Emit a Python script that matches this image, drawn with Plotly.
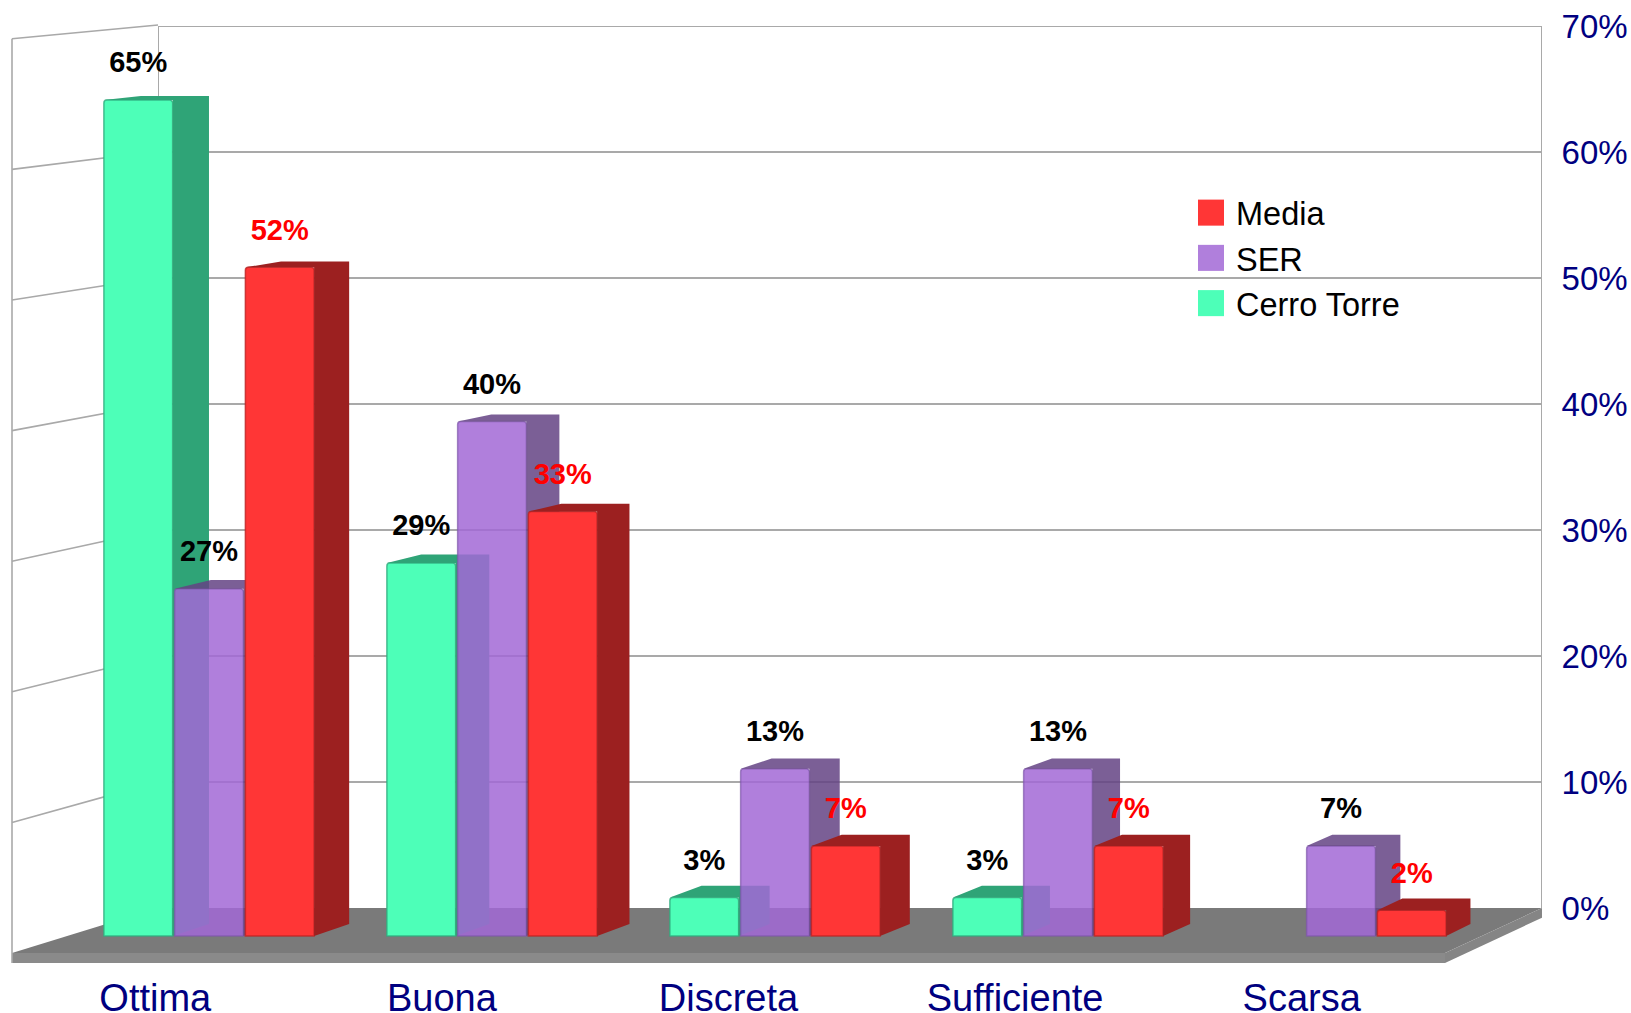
import plotly.graph_objects as go

# ---------- data ----------
categories = ["Ottima", "Buona", "Discreta", "Sufficiente", "Scarsa"]
cerro_torre = [65, 29, 3, 3, None]
ser = [27, 40, 13, 13, 7]
media = [52, 33, 7, 7, 2]
y_ticks = [0, 10, 20, 30, 40, 50, 60, 70]
y_tick_labels = ["0%", "10%", "20%", "30%", "40%", "50%", "60%", "70%"]

# ---------- canvas / projection constants (pixels only define the axes) ----------
W, H = 1631, 1013
FONT = "Liberation Sans"
NAVY = "#000080"
GRID = "#a9a9a9"


def px_range(p0, unit, size):
    """Axis range so that value 0 falls on pixel p0 and one unit spans `unit` px."""
    return [-p0 / unit, (size - p0) / unit]


# Floor / left wall plane
FLOOR_CAT, FLOOR_C0 = 286.6, 155.3
FLOOR_VAL, FLOOR_V0 = 13.06, 953
FLOOR_BOTTOM = 963
FLOOR_VP = ((4281 - FLOOR_C0) / FLOOR_CAT, (FLOOR_V0 + 363) / FLOOR_VAL)
WALL_SCALE = 0.9658
SLAB = -(FLOOR_BOTTOM - FLOOR_V0) / FLOOR_VAL

# Front plane of the bars
BAR_CAT, BAR_C0 = 283.0, 210.0
BAR_VAL, BAR_V0 = 12.86, 936
BAR_VP = ((4018 - BAR_C0) / BAR_CAT, (BAR_V0 + 334) / BAR_VAL)
BAR_DEPTH_SCALE = 0.99055
BAR_PITCH = 0.25
BAR_W = 0.243
LABEL_LIFT = 35 / BAR_VAL


def project(c, v, scale, vp):
    return vp[0] + (c - vp[0]) * scale, vp[1] + (v - vp[1]) * scale


def poly(points):
    xs = [p[0] for p in points] + [points[0][0], None]
    ys = [p[1] for p in points] + [points[0][1], None]
    return xs, ys


fig = go.Figure()

# ---------- back wall subplot (gridlines, frame and right-hand labels) ----------
top = y_ticks[-1]
fig.add_trace(go.Scatter(x=[0, 0, 1, 1], y=[0, top, top, 0], mode="lines",
                         line=dict(color=GRID, width=2), cliponaxis=False,
                         showlegend=False, hoverinfo="skip", xaxis="x", yaxis="y"))

# ---------- floor and left wall subplot ----------
fl = dict(xaxis="x2", yaxis="y2", showlegend=False, hoverinfo="skip")
L, R = -0.5, len(categories) - 0.5


def floor_pt(c, v, back=False):
    return project(c, v, WALL_SCALE if back else 1.0, FLOOR_VP)


# floor top
x, y = poly([floor_pt(L, 0), floor_pt(R, 0), floor_pt(R, 0, True), floor_pt(L, 0, True)])
fig.add_trace(go.Scatter(x=x, y=y, mode="lines", fill="toself", fillcolor="#7a7a7a",
                         line=dict(width=0), **fl))
# slab front
x, y = poly([floor_pt(L, SLAB), floor_pt(R, SLAB), floor_pt(R, 0), floor_pt(L, 0)])
fig.add_trace(go.Scatter(x=x, y=y, mode="lines", fill="toself", fillcolor="#8a8a8a",
                         line=dict(width=0), **fl))
# slab right side
x, y = poly([floor_pt(R, 0), floor_pt(R, 0, True), floor_pt(R, SLAB, True), floor_pt(R, SLAB)])
fig.add_trace(go.Scatter(x=x, y=y, mode="lines", fill="toself", fillcolor="#858585",
                         line=dict(width=0), **fl))
# left wall gridlines and front edge
gx, gy = [], []
for t in y_ticks[1:]:
    a, b = floor_pt(L, t), floor_pt(L, t, True)
    gx += [a[0], b[0], None]
    gy += [a[1], b[1], None]
a = floor_pt(L, y_ticks[-1])
gx += [a[0], a[0]]
gy += [a[1], SLAB]
fig.add_trace(go.Scatter(x=gx, y=gy, mode="lines", line=dict(color=GRID, width=1.6), **fl))

# ---------- bars subplot ----------
series = [
    ("Cerro Torre", cerro_torre, "#4dffb8", "#2fa477", "rgba(47,170,125,0.8)", "black"),
    ("SER", ser, "rgba(162,105,214,0.85)", "rgba(100,67,132,0.85)", "rgba(125,85,170,0.7)", "black"),
    ("Media", media, "#ff3636", "#9c2020", "rgba(190,35,35,0.8)", "#ff0000"),
]
idx = list(range(len(categories)))

for i, (name, values, face, dark, edge, txt) in enumerate(series):
    offset = -1.5 * BAR_PITCH + i * BAR_PITCH
    z = i + 1
    fig.add_trace(go.Bar(
        x=idx, y=values, name=name, width=BAR_W, offset=offset,
        marker=dict(color=face, line=dict(color=edge, width=1.5), cornerradius=3),
        xaxis="x3", yaxis="y3", zorder=z,
        hovertemplate="%{y}%<extra>" + name + "</extra>",
    ))
    sx, sy = [], []
    for c, v in zip(idx, values):
        if v is None:
            continue
        xl, xr = c + offset, c + offset + BAR_W
        p = lambda cc, vv: project(cc, vv, BAR_DEPTH_SCALE, BAR_VP)
        a, b = poly([(xr, 0), p(xr, 0), p(xr, v), (xr, v)])
        sx += a
        sy += b
        a, b = poly([(xl, v), (xr, v), p(xr, v), p(xl, v)])
        sx += a
        sy += b
    fig.add_trace(go.Scatter(
        x=sx, y=sy, mode="lines", fill="toself", fillcolor=dark,
        line=dict(width=0), xaxis="x3", yaxis="y3", zorder=z,
        showlegend=False, hoverinfo="skip",
    ))

# value labels above everything
for i, (name, values, face, dark, edge, txt) in enumerate(series):
    offset = -1.5 * BAR_PITCH + i * BAR_PITCH + BAR_W / 2
    shown = [(c + offset, v) for c, v in zip(idx, values) if v is not None]
    fig.add_trace(go.Scatter(
        x=[s[0] for s in shown], y=[s[1] + LABEL_LIFT for s in shown],
        text=[f"{s[1]}%" for s in shown], mode="text", textposition="middle center",
        textfont=dict(family=FONT, size=29, color=txt, weight="bold"),
        xaxis="x3", yaxis="y3", zorder=10, showlegend=False, hoverinfo="skip",
    ))

fig.update_layout(
    width=W, height=H, margin=dict(l=0, r=0, t=0, b=0, autoexpand=False),
    paper_bgcolor="white", plot_bgcolor="rgba(0,0,0,0)",
    font=dict(family=FONT),
    showlegend=True,
    legend=dict(x=1186 / W, y=1 - 185 / H, xanchor="left", yanchor="top",
                traceorder="reversed", bgcolor="rgba(0,0,0,0)",
                font=dict(family=FONT, size=32.5, color="black"), itemwidth=40),
    # back wall
    xaxis=dict(domain=[158 / W, 1542 / W], range=[0, 1], visible=False, fixedrange=True,
               automargin=False),
    yaxis=dict(domain=[1 - 908 / H, 1 - 26 / H], range=[0, top], side="right", anchor="x",
               tickvals=y_ticks, ticktext=y_tick_labels, showgrid=True,
               gridcolor=GRID, gridwidth=2, zeroline=False, showline=False,
               ticks="outside", ticklen=12, tickcolor="rgba(0,0,0,0)", automargin=False,
               tickfont=dict(family=FONT, size=33, color=NAVY), fixedrange=True),
    # floor plane
    xaxis2=dict(domain=[0, 1], range=px_range(FLOOR_C0, FLOOR_CAT, W), anchor="y2",
                tickvals=idx, ticktext=categories, showgrid=False, zeroline=False,
                showline=False, ticks="outside", ticklen=1, tickcolor="rgba(0,0,0,0)",
                automargin=False,
                tickfont=dict(family=FONT, size=38, color=NAVY), fixedrange=True),
    yaxis2=dict(domain=[1 - FLOOR_BOTTOM / H, 1], automargin=False,
                range=[SLAB, FLOOR_V0 / FLOOR_VAL], anchor="x2", visible=False, fixedrange=True),
    # bars plane
    xaxis3=dict(domain=[0, 1], range=px_range(BAR_C0, BAR_CAT, W), anchor="y3",
                visible=False, fixedrange=True, automargin=False),
    yaxis3=dict(domain=[0, 1], range=[-(H - BAR_V0) / BAR_VAL, BAR_V0 / BAR_VAL], anchor="x3",
                visible=False, fixedrange=True, automargin=False),
)

post = """
document.documentElement.style.overflow='hidden';
document.body.style.margin='0';
var gd=document.getElementById('{plot_id}');
function bigSwatches(){
  document.querySelectorAll('.legend .legendpoints path').forEach(function(p){
    var t=(p.getAttribute('transform')||'').replace(/ ?scale\\([^)]*\\)/,'');
    p.setAttribute('d','M6,6H-6V-6H6Z');
    p.setAttribute('transform',t+' scale(2.17)');
    p.style.strokeWidth='0';
  });
}
bigSwatches();
gd.on('plotly_afterplot',bigSwatches);
"""
fig.write_html("out.html", post_script=post, config={"displayModeBar": False})
